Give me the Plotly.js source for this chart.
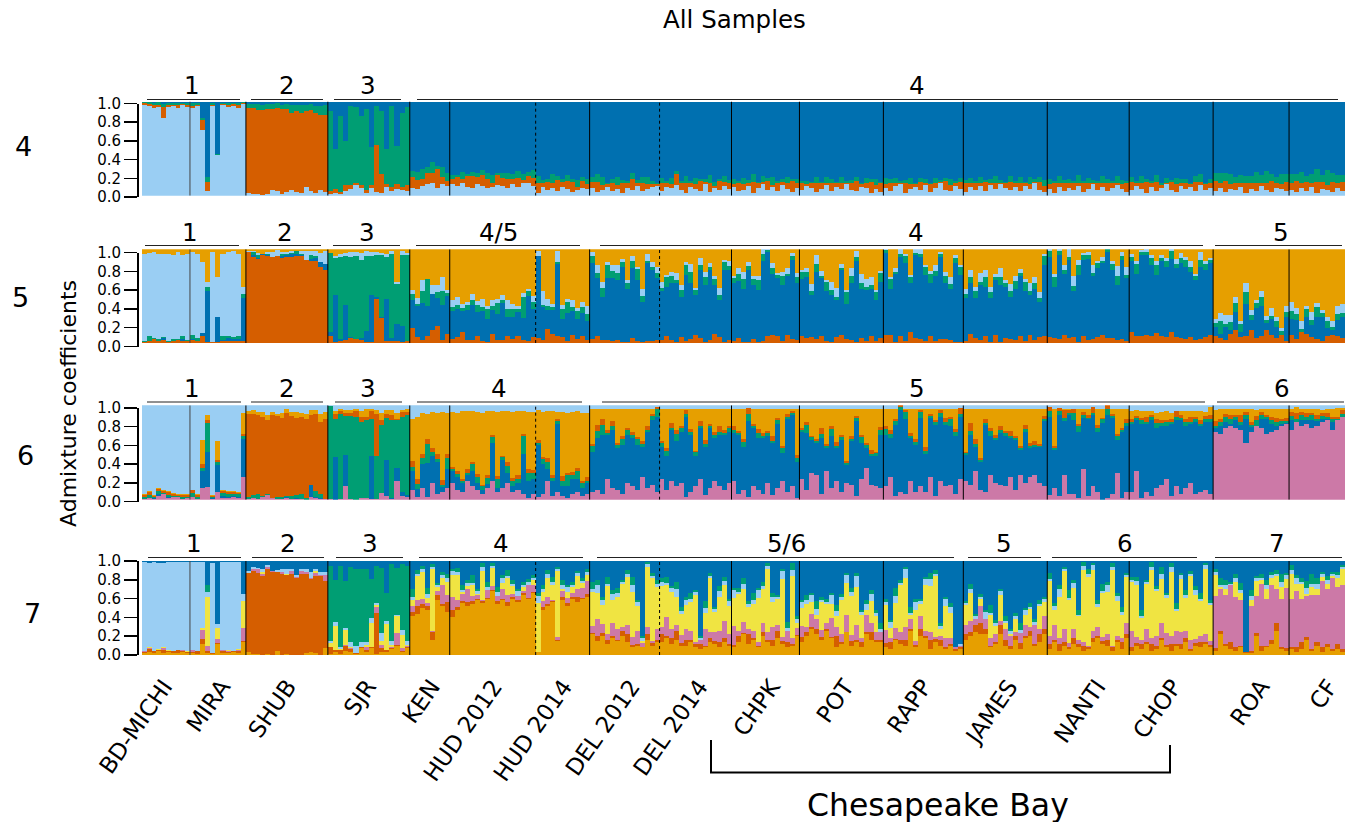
<!DOCTYPE html>
<html><head><meta charset="utf-8">
<script src="https://cdn.plot.ly/plotly-3.0.1.min.js"></script>
<style>html,body{margin:0;padding:0;background:#fff}#c{width:1350px;height:822px}</style>
</head><body><div id="c"></div>
<script>
// populations and approximate sample counts
const populations=["BD-MICHI","MIRA","SHUB","SJR","KEN","HUD 2012","HUD 2014","DEL 2012","DEL 2014","CHPK","POT","RAPP","JAMES","NANTI","CHOP","ROA","CF"];
const sampleCounts=[24,28,41,41,20,43,27,35,36,34,42,40,42,41,42,38,28];
const tickPositions=[11,40,73,113,145,176,211,245,279,315,352,391,434,478,516,560,594];
const yTicks=[0,0.2,0.4,0.6,0.8,1];
const yTickText=["0.0","0.2","0.4","0.6","0.8","1.0"];
const dottedAfter=[5,7];

// K=4 (percent per column, per population); blue is the remainder
const k4_sky=[[96,95,93,94,82,94,95,93,96,94],[93,95,70,5,95,43,96,94,95,93,97],[3,2,2,1,2,6,5,2,4,6,4,3,9,5,3,6,4],[2,3,2,5,7,11,8,3,8,4,3,9,5,7,6,5],[8,7,10,12,14,8,12,10],[12,10,14,9,8,12,10,8,9,11,10,8,12,9,13,14,10],[3,9,6,8,5,9,7,4,6,8,7],[8,4,6,9,5,7,3,8,6,10,5,7,9,10],[5,9,8,11,6,3,9,7,5,12,4,8,6,10,7],[9,5,6,10,3,8,12,6,9,5,11,7,4,8],[6,10,8,4,7,11,5,9,7,12,6,5,9,8,3,7,4],[8,5,10,12,3,7,9,6,11,4,8,13,6,5,10,7],[4,9,6,10,5,11,7,12,8,6,9,5,10,7,13,6,4],[7,3,9,5,8,6,10,4,7,12,6,9,5,8,11,7,4],[6,10,7,3,9,5,8,12,6,4,10,7,9,5,11,6,8],[5,8,4,7,6,9,3,7,5,10,6,4,8,7,5],[6,4,8,5,9,3,7,6,4,8,5]];
const k4_verm=[[2,2,3,2,12,2,1,3,1,2],[2,1,10,10,1,0,1,2,2,3,1],[90,91,89,90,90,86,88,90,88,82,86,85,81,86,85,80,82],[3,4,2,6,4,2,3,3,3,50,20,3,4,5,3,6],[12,10,8,12,10,20,8,6],[6,10,4,12,13,8,12,10,5,11,9,10,6,10,4,7,9],[10,4,9,5,12,6,9,11,3,8,5],[7,11,5,3,9,4,10,6,12,4,8,5,3,2],[9,5,4,12,8,10,4,5,11,3,9,2,10,5,6],[3,9,6,4,12,5,3,10,2,9,4,6,12,5],[8,2,5,10,6,3,9,4,6,2,8,11,3,5,12,4,9],[4,9,3,2,11,5,3,9,2,8,5,2,10,6,4,8],[9,4,8,3,10,2,6,2,5,9,4,8,3,5,2,9,6],[5,11,4,9,5,8,3,10,6,2,8,4,9,6,3,5,10],[9,4,6,12,5,10,3,2,9,8,4,6,3,10,4,6,5],[11,6,12,5,8,4,11,6,9,3,8,12,6,5,10],[8,12,6,10,4,12,8,5,11,6,10]];
const k4_green=[[1,2,2,3,3,2,2,2,1,2],[3,2,2,5,2,1,1,2,1,2,2],[4,4,6,5,5,5,5,4,5,8,6,8,6,6,7,9,10],[85,43,81,47,84,81,74,86,41,41,67,38,86,41,79,83],[6,8,10,6,12,4,10,8],[4,2,7,2,4,4,5,6,8,2,5,6,5,7,6,4,8],[8,4,3,10,4,3,6,3,8,4,6],[5,8,9,2,4,9,4,2,6,3,7,8,4,2],[5,2,7,3,2,8,3,7,2,3,9,5,2,6,4],[6,2,7,3,8,2,6,3,9,2,3,7,2,5],[2,4,2,6,2,6,4,2,7,2,3,4,2,6,3,7,2],[7,4,6,2,3,7,2,4,5,2,6,2,3,7,2,4],[4,6,2,7,2,5,8,3,2,6,3,7,2,8,3,5,7],[6,2,8,3,5,2,9,2,6,3,2,8,4,2,7,5,2],[5,2,8,3,2,7,3,5,2,7,4,5,2,6,8,2,5],[8,10,8,11,6,9,7,8,11,9,12,7,6,11,8],[9,7,11,6,10,13,7,16,9,8,7]];

// K=5; amber is the remainder
const k5_verm=[[1,2,4,2,3,1,2,3,2,2],[3,2,8,1,1,1,2,2,2,2,2],[97,92,90,94,93,92,93,91,92,92,93,93,89,88,87,81,78],[7,1,2,3,5,4,3,1,1,47,27,2,2,2,1,2],[16,6,3,8,14,18,3,10],[4,6,12,3,3,8,2,1,10,3,3,8,4,8,3,2,6],[5,3,15,10,8,6,2,9,4,7,3],[4,8,3,3,2,3,1,1,5,2,1,2,2,3],[3,8,3,1,6,2,4,9,5,1,3,10,6,1,3],[2,5,1,1,4,1,2,7,9,8,2,9,4,3],[7,5,6,4,7,2,1,6,9,4,3,1,5,2,8,2,5],[9,9,1,7,2,12,5,4,2,8,2,4,4,3,1,1],[2,10,5,3,8,1,9,1,5,4,3,8,2,9,3,6,8],[6,5,4,9,5,6,1,7,3,4,6,9,5,5,3,4,2],[12,8,7,9,7,11,8,6,12,6,5,4,6,3,4,6,9],[8,5,3,10,14,6,8,14,5,8,14,9,5,9,2],[9,4,12,10,6,4,2,7,9,8,5]];
const k5_blue=[[0,0,0,0,2,0,0,0,2,0],[1,0,3,55,0,27,1,3,2,2,46],[0,2,1,1,1,0,0,2,2,3,2,1,0,2,4,5,6],[5,50,2,38,1,0,2,12,50,2,1,45,3,18,17,0],[30,33,40,32,38,30,38,40],[30,30,22,32,38,25,32,25,25,28,40,20,24,25,24,48,30],[88,35,20,25,76,20,30,25,22,25,20],[81,61,46,66,67,64,80,57,75,65,43,83,76,66],[52,52,61,63,43,71,60,42,73,61,75,52,40,77,75],[62,61,57,77,58,56,85,90,65,61,60,62,85,61],[61,65,45,72,62,53,50,40,69,38,61,86,53,55,50,44,60],[87,49,73,85,83,52,89,88,71,56,69,88,60,55,84,72],[46,54,43,59,52,47,58,61,55,45,55,64,53,42,55,38,75],[86,55,90,65,84,49,72,82,87,67,74,76,92,73,59,85,67],[75,66,87,85,76,62,79,75,78,74,80,77,70,64,77,72,76],[9,5,14,4,19,6,34,11,32,31,7,17,12,0,26],[17,21,0,18,13,24,26,9,5,17,23]];
const k5_green=[[1,5,1,2,1,1,2,1,3,1],[5,3,0,4,0,0,4,2,2,4,4],[0,3,3,0,1,0,0,2,1,1,3,1,0,4,2,0,0],[84,40,88,52,86,89,84,80,42,45,66,45,90,43,76,92],[6,3,12,28,0,6,15,3],[4,5,3,6,5,8,4,10,4,12,3,8,8,3,22,6,8],[0,3,4,3,2,10,12,4,8,6,8],[8,6,10,14,8,8,5,6,8,12,6,2,3,6],[4,10,8,3,8,10,12,6,5,8,3,6,5,8,4],[5,8,10,4,6,10,8,2,6,4,10,3,4,6],[8,6,4,8,2,10,6,3,2,12,8,5,6,3,4,8,10],[3,10,2,3,8,6,2,3,8,10,6,3,8,5,6,8],[4,6,8,3,10,6,3,8,4,6,8,3,10,5,6,4,10],[6,10,4,4,3,6,10,5,4,4,5,3,3,6,10,4,4],[5,10,3,3,8,10,4,6,8,4,6,8,5,4,8,6,4],[4,14,3,8,10,8,12,5,6,10,4,3,6,4,5],[8,6,3,8,6,10,4,8,3,6,4]];
const k5_sky=[[93,89,92,91,89,93,90,93,87,92],[88,90,75,5,96,42,88,90,92,87,8],[1,1,2,0,2,5,6,2,2,2,0,3,9,4,5,10,14],[0,2,3,3,5,4,7,5,4,3,2,3,3,2,4,2],[5,6,12,0,10,8,14,4],[8,8,5,3,6,4,9,3,7,4,5,10,6,3,4,2,6],[5,15,8,4,12,5,3,8,3,6,8],[4,8,6,3,6,8,4,3,5,2,8,8,5,6],[6,3,4,8,5,3,8,2,8,6,4,3,8,3,5],[3,6,8,4,3,4,7,3,5,2,4,6,3,5],[2,4,8,10,6,2,8,10,4,3,8,6,10,8,8,3,2],[1,2,4,6,2,3,4,5,2,3,6,2,4,7,3,2],[6,8,4,10,8,6,4,10,3,8,5,4,3,8,6,6,2],[2,4,3,5,8,10,6,2,3,8,2,4,2,3,10,4,8],[3,4,2,3,3,5,3,4,2,6,5,3,6,3,8,4,2],[5,8,10,8,6,4,10,5,3,6,4,8,5,3,6],[10,6,8,3,8,5,3,4,6,8,10]];

// K=6; sky is the remainder
const k6_pink=[[1,2,1,4,6,2,3,3,1,2],[3,1,12,13,1,8,2,2,3,2,24],[1,2,1,3,5,2,1,1,2,1,1,1,0,3,2,1,1],[1,0,1,14,1,0,2,2,1,1,7,4,1,20,4,3],[10,3,12,3,18,6,8,12],[18,10,8,20,14,10,6,12,20,8,12,18,8,10,6,2,6],[3,6,20,4,8,4,2,6,8,4,6],[8,10,6,22,12,10,6,18,14,10,24,12,16,8],[22,10,20,15,18,3,8,14,22,5,12,20,15,10,18],[20,6,10,3,14,10,6,18,5,12,20,8,14,2],[22,10,28,26,6,30,12,20,8,18,16,4,22,34,16,14,12],[14,24,4,8,6,20,8,14,8,24,4,20,14,16,6,22],[20,16,30,10,8,26,18,16,14,24,10,26,18,24,26,18,15],[5,12,4,26,6,6,2,32,4,14,8,0,2,6,28,2,8],[8,30,2,8,4,12,16,22,4,14,6,12,18,6,8,10,6],[72,70,76,78,76,74,60,72,78,76,70,72,74,78,80],[74,82,78,80,76,78,82,84,74,84,88]];
const k6_blue=[[0,0,1,2,0,1,0,0,0,0],[0,0,18,38,1,29,2,1,1,1,40],[0,0,0,0,0,0,0,0,1,0,1,0,0,13,1,1,0],[0,45,0,33,0,0,0,0,45,0,0,38,1,14,4,2],[20,8,26,36,28,34,5,20],[12,14,10,6,16,8,4,5,40,4,30,10,6,8,42,18,16],[55,32,12,16,72,10,12,16,14,8,12],[43,55,63,47,62,45,52,51,51,48,32,60,68,80],[34,36,54,47,54,85,61,32,54,51,64,45,54,59,54],[51,63,46,80,62,55,59,49,55,68,29,77,76,38],[50,61,35,34,59,25,55,35,55,19,46,79,38,21,30,32,57],[55,41,75,87,79,45,50,73,40,63,75,68,65,62,61,66],[27,53,26,30,71,41,45,55,53,41,53,27,54,31,30,38,68],[83,41,86,57,84,78,70,55,81,76,64,81,88,81,35,70,70],[72,54,78,72,80,64,62,56,76,70,78,66,62,76,70,72,76],[4,8,6,2,8,5,26,5,0,10,15,8,4,2,1],[10,0,6,4,8,5,3,2,8,0,0]];
const k6_green=[[2,3,1,3,1,2,1,1,2,1],[4,2,4,30,1,3,3,3,2,3,4],[2,3,5,1,1,0,2,2,1,3,3,5,2,0,6,4,0],[98,40,90,42,88,88,80,82,40,45,72,45,82,50,80,85],[5,6,6,20,5,3,3,12],[2,3,2,2,8,6,4,6,6,10,3,8,6,4,20,8,6],[2,5,8,3,3,6,12,4,8,6,2],[6,8,10,2,4,3,6,5,4,6,3,2,5,8],[4,6,2,8,4,3,3,4,2,3,2,4,3,2,4],[3,2,5,8,2,6,3,4,2,4,6,3,2,4],[2,8,3,2,5,2,8,2,3,2,2,4,6,3,2,3,5],[6,5,4,3,8,2,3,6,4,2,3,4,3,8,5,3],[2,4,3,2,2,6,2,3,4,3,2,2,3,2,2,1,3],[6,2,4,4,2,8,6,3,2,2,4,4,6,2,4,2,3],[2,3,4,2,4,5,3,4,2,4,3,4,2,4,2,4,3],[2,4,6,6,4,3,4,2,6,4,3,4,4,3,2],[5,4,6,4,6,3,4,2,3,2,3]];
const k6_verm=[[2,3,1,2,2,3,2,1,2,2],[3,2,4,3,1,2,2,2,2,1,2],[88,86,84,84,78,88,86,84,88,85,82,82,84,74,82,76,84],[0,6,3,3,3,6,6,4,8,45,5,4,6,2,5,3],[6,5,4,5,4,5,5,4],[3,3,2,4,2,3,2,3,3,3,1,4,3,4,2,5,3],[3,2,4,3,2,5,2,3,4,2,4],[2,6,6,3,5,2,3,2,3,2,3,4,2,2],[2,3,5,4,2,4,3,2,5,4,2,3,6,3,2],[4,2,3,6,2,4,3,2,6,3,2,3,2,3],[2,3,2,2,6,2,3,4,3,2,3,2,3,2,5,2,3],[3,4,2,3,2,4,3,2,4,2,2,3,5,2,3,6],[2,8,5,2,4,3,4,4,2,5,3,2,4,3,4,2,3],[4,2,3,8,3,4,2,3,3,6,3,2,5,2,3,2,4],[4,2,3,6,2,5,3,2,4,6,3,4,6,2,4,3,5],[5,4,3,4,2,8,3,3,5,3,2,4,5,3,4],[4,6,3,4,2,4,3,4,3,2,4]];
const k6_amber=[[1,1,1,1,1,1,1,1,1,1],[0,1,25,6,1,20,1,1,1,1,22],[3,4,3,5,6,3,2,5,4,4,6,4,5,5,4,9,8],[0,3,2,3,3,2,6,8,2,4,8,4,5,6,2,3],[45,66,44,27,38,44,72,44],[58,62,72,62,54,66,76,68,25,68,48,54,70,68,24,60,62],[32,48,50,68,8,68,64,64,60,72,68],[37,17,11,22,13,36,29,20,24,30,34,18,5,0],[34,41,15,22,18,1,21,44,13,33,16,24,18,22,18],[18,23,32,0,16,21,25,23,28,9,39,5,2,49],[20,14,28,32,20,37,18,35,27,55,29,7,27,36,43,45,19],[18,22,11,0,1,25,32,1,40,5,12,1,9,8,21,0],[45,15,32,52,11,20,27,18,23,23,28,39,17,36,34,37,7],[0,39,0,1,1,0,16,3,6,0,17,9,0,5,26,20,11],[8,6,7,6,4,6,9,10,6,0,4,8,6,6,10,4,8],[12,10,5,6,6,6,3,14,6,3,6,8,9,10,9],[3,6,3,4,4,6,3,4,8,9,2]];

// K=7; blue is the remainder
const k7_amber=[[2,3,2,4,2,3,2,2,3,2],[2,1,12,2,1,12,2,2,3,2,14],[3,1,1,0,1,0,4,0,1,0,0,0,2,3,2,0,7],[1,3,1,4,3,1,7,3,7,1,3,3,6,10,3,7],[42,44,50,48,16,58,52,46],[40,48,55,52,54,58,55,60,68,54,58,52,60,56,64,60,66],[3,48,52,56,15,58,52,60,56,60,62],[22,15,20,12,18,15,20,14,8,10,8,16,10,14],[14,18,12,16,10,10,14,8,6,8,14,12,8,14,10],[8,14,22,12,16,8,20,14,10,18,12,8,10,20],[14,20,28,22,16,26,18,8,12,24,10,14,8,22,16,14,14],[8,6,16,12,10,26,8,20,18,6,14,10,6,10,4,6],[16,20,24,22,22,8,12,22,10,6,16,6,18,20,10,14,22],[6,14,4,10,6,12,8,4,6,14,18,12,10,4,14,6,18],[4,10,6,12,4,6,16,8,4,10,6,14,4,10,8,12,8],[4,22,10,6,4,8,2,2,20,4,8,12,26,6,4],[6,3,6,16,4,10,3,8,4,6,3]];
const k7_verm=[[1,3,2,1,3,1,2,3,1,1],[1,3,5,2,1,1,2,1,1,2,1],[84,88,86,84,90,88,84,86,84,86,82,86,84,78,82,84,72],[8,2,4,6,3,1,1,2,1,44,4,2,1,1,1,1],[4,8,4,4,8,6,2,10],[8,3,2,4,3,2,2,1,1,3,2,4,2,3,2,1,1],[0,3,2,1,1,4,3,2,6,1,3],[1,5,3,4,2,1,6,8,3,2,1,6,3,2],[8,2,6,10,3,6,2,4,6,2,4,3,6,4,2],[3,6,1,10,2,2,4,2,6,8,3,6,2,1],[5,4,2,6,3,2,1,12,2,1,5,2,6,3,8,2,2],[5,8,1,4,6,2,3,8,2,10,3,6,2,2,2,2],[6,4,8,12,6,2,2,10,6,4,4,7,2,6,2,8,6],[6,2,8,4,3,6,4,6,2,4,2,3,6,4,2,8,4],[4,3,6,2,8,4,2,3,8,2,6,4,2,3,6,2,3],[3,4,2,8,4,2,1,2,3,6,2,4,8,2,3],[2,5,8,3,2,4,6,4,2,6,3]];
const k7_pink=[[1,1,0,0,2,0,0,0,1,0],[2,0,10,6,0,4,1,1,0,1,14],[0,2,4,2,3,1,0,2,0,3,1,3,2,1,3,1,6],[0,0,0,1,1,0,0,3,0,6,4,0,1,12,3,2],[6,6,6,3,2,4,20,8],[14,8,8,14,6,4,2,8,4,6,10,8,3,4,2,14,8],[0,6,8,2,3,6,6,4,8,10,14],[8,18,10,6,14,12,4,10,8,14,4,8,2,12],[8,20,10,6,8,12,10,2,4,18,6,10,12,18,10],[20,6,12,6,8,4,10,8,14,6,4,12,6,8],[12,6,14,10,8,6,20,10,8,18,6,16,4,18,10,8,8],[14,4,12,8,14,10,4,14,6,8,2,4,10,6,2,2],[10,12,6,18,10,8,8,4,12,10,4,10,12,4,20,6,14],[8,16,6,14,4,10,4,4,2,8,10,4,6,2,4,4,12],[18,6,4,14,6,10,16,12,8,14,12,8,10,4,6,8,4],[56,44,52,60,54,48,0,48,40,66,50,58,36,52,64],[52,60,46,44,58,50,70,58,76,60,68]];
const k7_yellow=[[0,1,0,1,1,1,0,0,0,1],[0,0,2,52,0,12,0,1,0,1,28],[0,0,0,2,0,0,0,0,1,0,0,0,0,0,2,0,0],[4,26,1,16,1,0,0,3,26,2,4,28,3,18,14,1],[6,26,28,6,65,4,8,14],[23,26,2,3,12,1,30,0,20,0,7,18,8,0,4,0,5],[52,10,20,16,70,2,6,6,14,6,6],[36,28,20,51,25,34,46,51,48,26,2,64,67,44],[43,34,39,30,23,25,30,50,0,17,58,21,36,39,30],[30,39,35,23,28,47,36,67,26,28,62,0,66,5],[19,24,12,5,29,20,15,12,37,34,42,40,25,5,23,17,1],[26,11,26,50,52,5,33,12,49,49,65,8,34,27,0,0],[21,30,0,8,0,25,9,28,6,2,14,0,11,19,0,24,14],[59,16,44,61,46,43,25,76,73,64,21,47,45,80,37,25,49],[52,55,23,48,72,48,47,38,68,21,57,35,68,47,37,70,38],[22,2,6,0,16,8,0,6,16,4,10,8,14,12,10],[26,8,16,2,8,6,4,6,2,10,18]];
const k7_sky=[[95,90,95,92,90,94,95,94,94,95],[94,95,70,5,96,4,94,94,95,93,8],[2,3,2,4,2,0,2,3,5,3,2,3,4,6,2,3,3],[2,4,3,2,6,8,6,3,5,2,8,3,4,2,6,4],[4,2,3,4,3,2,3,4],[4,3,2,4,2,3,5,3,2,4,5,2,3,5,2,3,2],[8,3,4,3,2,4,5,2,3,2,3],[3,8,5,3,6,4,2,3,8,4,3,3,2,4],[5,3,4,8,3,6,4,3,2,5,2,3,6,4,5],[8,2,6,3,4,8,3,4,6,2,8,3,6,4],[6,4,8,6,3,2,10,5,3,8,4,12,3,6,8,4,3],[3,6,8,3,10,2,8,3,6,8,2,3,8,6,1,2],[2,4,3,2,8,2,3,4,2,4,3,4,5,2,3,2,4],[2,4,8,3,2,6,2,5,3,6,3,2,8,4,6,3,2],[2,5,3,2,4,2,5,3,6,2,4,3,2,5,3,4,2],[3,2,4,2,4,3,0,5,3,2,4,3,2,6,4],[4,6,2,6,4,6,3,4,2,3,2]];
const k7_green=[[0,0,0,0,0,0,0,0,0,0],[0,0,0,8,0,0,0,0,0,0,0],[0,0,0,0,0,0,0,0,0,0,0,0,0,0,0,0,0],[80,45,86,50,80,82,78,78,42,40,70,30,82,50,70,80],[8,4,4,6,3,3,3,4],[3,5,6,3,8,2,4,6,3,5,3,6,4,2,4,3,3],[3,5,4,5,3,6,3,4,2,3,4],[8,6,4,7,4,5,2,4,8,2,2,2,3,4],[4,6,2,8,4,3,6,2,2,7,3,2,5,4,3],[2,4,6,3,8,2,5,3,4,2,3,6,8,3],[3,6,2,8,3,4,2,6,3,2,4,3,2,5,4,3,6],[4,2,8,3,2,6,4,3,2,6,4,3,2,4,0,0],[2,6,3,3,2,8,3,2,6,2,4,7,2,4,3,4,2],[6,3,4,2,8,3,5,4,6,2,4,8,3,4,3,5,2],[3,4,6,2,5,3,8,2,4,6,2,5,3,4,6,2,3],[3,8,6,2,4,8,0,6,2,4,6,3,4,8,2],[6,3,4,8,10,6,2,4,2,3,2]];

// Panel annotations
const rowLabels=["4","5","6","7"];
const k4_groups=["1","2","3","4"];
const k5_groups=["1","2","3","4/5","4","5"];
const k6_groups=["1","2","3","4","5","6"];
const k7_groups=["1","2","3","4","5/6","5","6","7"];

const W=1350,H=822;
const colors={sky:"#9ACEF3",blue:"#0070B0",verm:"#D55E00",green:"#009E73",amber:"#E69F00",pink:"#CC79A7",yellow:"#F0E442"};
const fx=p=>p/W, fy=p=>1-p/H;

// columns per population come from each array's own length
function columns(first){
  const xs=[],ws=[],idx=[];let start=0;
  first.forEach((vals,p)=>{
    const w=sampleCounts[p]/vals.length;
    vals.forEach((_,i)=>{xs.push(start+(i+0.5)*w);ws.push(w);idx.push([p,i]);});
    start+=sampleCounts[p];
  });
  return {xs,ws,idx};
}
function panel(series,restName,restIdx,yref){
  const c=columns(series[0].v);
  const rows=series.map(s=>c.idx.map(([p,i])=>(s.v[p][i]||0)));
  const rest=c.idx.map((_,j)=>Math.max(0,100-rows.reduce((a,r)=>a+r[j],0)));
  const out=series.map((s,k)=>({name:s.n,y:rows[k]}));
  out.splice(restIdx,0,{name:restName,y:rest});
  return out.map(s=>({type:"bar",x:c.xs,width:c.ws,y:s.y.map(v=>v/100),xaxis:"x",yaxis:yref,
    marker:{color:colors[s.name],line:{width:0}},hoverinfo:"skip",showlegend:false}));
}
const traces=[
 ...panel([{n:"sky",v:k4_sky},{n:"verm",v:k4_verm},{n:"green",v:k4_green}],"blue",3,"y"),
 ...panel([{n:"verm",v:k5_verm},{n:"blue",v:k5_blue},{n:"green",v:k5_green},{n:"sky",v:k5_sky}],"amber",4,"y2"),
 ...panel([{n:"pink",v:k6_pink},{n:"blue",v:k6_blue},{n:"green",v:k6_green},{n:"verm",v:k6_verm},{n:"amber",v:k6_amber}],"sky",5,"y3"),
 ...panel([{n:"amber",v:k7_amber},{n:"verm",v:k7_verm},{n:"pink",v:k7_pink},{n:"yellow",v:k7_yellow},{n:"sky",v:k7_sky},{n:"green",v:k7_green}],"blue",6,"y4")
];

const totalSamples=sampleCounts.reduce((a,b)=>a+b,0);
const barBoxes=[[101.5,195.7],[249.3,343],[405.3,499.7],[561,655]];
const tickBoxes=[[103.5,197],[252.5,346.5],[408,501.7],[561,655]];
const layout={width:W,height:H,margin:{l:0,r:0,t:0,b:0},paper_bgcolor:"#fff",plot_bgcolor:"rgba(0,0,0,0)",
  barmode:"stack",bargap:0,showlegend:false,hovermode:false,
  font:{family:"DejaVu Sans, sans-serif",color:"#000"},
  xaxis:{domain:[fx(142),fx(1345)],range:[0,totalSamples],anchor:"y4",showline:false,zeroline:false,showgrid:false,
    tickmode:"array",tickvals:tickPositions,ticktext:populations,tickangle:-55,ticks:"outside",ticklen:8,tickcolor:"rgba(0,0,0,0)",
    tickfont:{size:23,family:"DejaVu Sans"}},
  shapes:[],annotations:[]
};
barBoxes.forEach((b,i)=>{
  const n=i?String(i+1):"";
  layout["yaxis"+n]={domain:[fy(b[1]),fy(b[0])],range:[0,1],anchor:"x",visible:false,fixedrange:true};
  const t=tickBoxes[i],m=i+5;
  layout["yaxis"+m]={domain:[fy(t[1]),fy(t[0])],range:[0,1],anchor:"free",position:fx(137),side:"left",showgrid:false,zeroline:false,
    showline:true,linecolor:"#000",linewidth:1.5,ticks:"outside",ticklen:13,tickwidth:1.5,tickcolor:"#000",
    tickmode:"array",tickvals:yTicks,ticktext:yTickText,tickfont:{size:15,family:"DejaVu Sans",color:"#000"}};
  traces.push({type:"scatter",mode:"markers",x:[null],y:[null],xaxis:"x",yaxis:"y"+m,hoverinfo:"skip",showlegend:false});
  // population separators
  let cum=0;
  sampleCounts.slice(0,-1).forEach((c,p)=>{
    cum+=c;
    layout.shapes.push({type:"line",xref:"x",x0:cum,x1:cum,yref:"y"+(n),y0:0,y1:1,
      line:{color:p===0?"#444":"#000",width:1,dash:dottedAfter.includes(p)?"dot":"solid"}});
  });
});
function seg(y,x0,x1){layout.shapes.push({type:"line",xref:"paper",yref:"paper",x0:fx(x0),x1:fx(x1),y0:fy(y),y1:fy(y),line:{color:"#222",width:1}});}
function note(txt,x,y,size,extra){layout.annotations.push(Object.assign({text:txt,xref:"paper",yref:"paper",x:fx(x),y:fy(y),xanchor:"center",yanchor:"middle",showarrow:false,font:{size,family:"DejaVu Sans",color:"#000"}},extra||{}));}
function groups(labels,y,ly,spans,centers){labels.forEach((t,i)=>{seg(y,spans[i][0],spans[i][1]);note(t,centers[i],ly,24.5);});}
groups(k4_groups,99.5,85,[[147,240],[251,323],[334,401],[417,1338]],[192,287,368,917]);
groups(k5_groups,245.5,232,[[145,239],[249,321],[333,400],[416,580],[600,1203],[1215,1342]],[190,285,367,498,916,1281]);
groups(k6_groups,402,388,[[147,241],[251,323],[335,402],[417,582],[602,1205],[1217,1344]],[192,287,368,499,917,1282]);
groups(k7_groups,557.5,543,[[148,241],[252,324],[336,403],[419,583],[597,954],[968,1041],[1052,1197],[1215,1342]],[194,288,370,501,786,1004,1125,1277]);
note("All Samples",734,20,24.5);
note("Admixture coefficients",68,404,22,{textangle:-90});
[[23,147],[20,297],[25,455],[32,613]].forEach((p,i)=>note(rowLabels[i],p[0],p[1],27));
note("Chesapeake Bay",938,805,31.5);
layout.shapes.push({type:"path",xref:"paper",yref:"paper",
  path:`M ${fx(711)} ${fy(740)} L ${fx(711)} ${fy(772.5)} L ${fx(1170)} ${fy(772.5)} L ${fx(1170)} ${fy(745)}`,
  line:{color:"#000",width:2}});
Plotly.newPlot("c",traces,layout,{staticPlot:true,displayModeBar:false});
</script></body></html>
